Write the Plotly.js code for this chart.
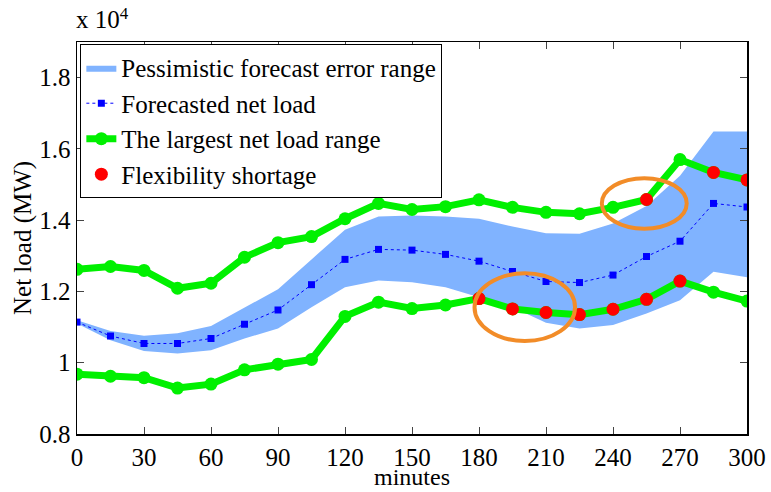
<!DOCTYPE html>
<html>
<head>
<meta charset="utf-8">
<script src="https://cdn.plot.ly/plotly-3.0.1.min.js"></script>
<style>html,body{margin:0;padding:0;background:#fff;}
#wrap{position:relative;width:771px;height:492px;}
#chart{position:absolute;left:0;top:0;width:771px;height:492px;}
#mult{position:absolute;left:76px;top:5px;font-family:'Liberation Serif';font-size:25px;color:#000;line-height:30px;}
#mult sup{font-size:17px;vertical-align:top;position:relative;top:-6px;}
</style>
</head>
<body>
<div id="wrap">
<div id="chart"></div>
<div id="mult">x 10<sup>4</sup></div>
</div>
<script>
// ---- data (net load in MW) ----
var minutes = [0,15,30,45,60,75,90,105,120,135,150,165,180,195,210,225,240,255,270,285,300];
var forecast = [11140,10750,10540,10540,10680,11080,11480,12190,12900,13180,13160,13040,12850,12560,12280,12250,12460,12980,13410,14470,14370];
var rangeUpper = [12620,12700,12590,12090,12230,12960,13370,13540,14040,14470,14300,14380,14570,14360,14220,14180,14360,14580,15700,15340,15130];
var rangeLower = [9680,9620,9580,9290,9400,9800,9960,10090,11300,11700,11520,11620,11800,11510,11410,11350,11500,11780,12290,11980,11730];
var errUpper = [11190,10890,10760,10830,11030,11550,12060,12900,13730,14100,14130,14100,14040,13820,13630,13620,13910,14400,15250,16490,16490];
var errLower = [11100,10630,10330,10260,10350,10680,10960,11560,12120,12310,12260,12120,11840,11560,11120,10960,11060,11380,11750,12550,12400];
var shortageUpperMin = [255,285,300];
var shortageLowerMin = [180,195,210,225,240,255,270];
var yTickVals = [8000,10000,12000,14000,16000,18000];
var yTickText = ["0.8","1","1.2","1.4","1.6","1.8"];
var xTickVals = [0,30,60,90,120,150,180,210,240,270,300];
// highlight ellipses [x0, x1, y0, y1]
var ellipses = [[235,273,13760,15180],[178,223,10610,12510]];

var FONT = 'Liberation Serif';
var GREEN = "#00f000";

var shortX = [], shortY = [];
shortageUpperMin.forEach(function(m){ shortX.push(m); shortY.push(rangeUpper[minutes.indexOf(m)]); });
shortX.push(null); shortY.push(null);
shortageLowerMin.forEach(function(m){ shortX.push(m); shortY.push(rangeLower[minutes.indexOf(m)]); });

var bandX = minutes.concat(minutes.slice().reverse());
var bandY = errUpper.concat(errLower.slice().reverse());

var traces = [
  {x: bandX, y: bandY, type:'scatter', mode:'lines', fill:'toself', fillcolor:'#80b3ff',
   line:{width:0, color:'#80b3ff'}, name:'Pessimistic forecast error range', hoverinfo:'skip'},
  {x: minutes, y: forecast, type:'scatter', mode:'lines+markers', name:'Forecasted net load',
   line:{color:'#0000ff', width:1, dash:'dot'}, marker:{symbol:'square', size:7, color:'#0000ff'}},
  {x: minutes, y: rangeUpper, type:'scatter', mode:'lines+markers', name:'The largest net load range',
   line:{color:GREEN, width:7}, marker:{symbol:'circle', size:13, color:GREEN}, legendgroup:'g'},
  {x: minutes, y: rangeLower, type:'scatter', mode:'lines+markers', showlegend:false,
   line:{color:GREEN, width:7}, marker:{symbol:'circle', size:13, color:GREEN}, legendgroup:'g'},
  {x: shortX, y: shortY, type:'scatter', mode:'markers', name:'Flexibility shortage',
   marker:{symbol:'circle', size:13, color:'#ff0000'}}
];

var shapes = ellipses.map(function(e){
  return {type:'circle', xref:'x', yref:'y', x0:e[0], x1:e[1], y0:e[2], y1:e[3],
          line:{color:'#f28c28', width:4}};
});

var layout = {
  width:771, height:492,
  margin:{l:77, r:24, t:42, b:58},
  paper_bgcolor:'rgba(0,0,0,0)', plot_bgcolor:'#fff',
  font:{family:FONT, size:25, color:'#000'},
  showlegend:true,
  legend:{x:0.005, y:0.995, xanchor:'left', yanchor:'top', bordercolor:'#000', borderwidth:1,
          bgcolor:'#fff', tracegroupgap:0, itemwidth:30},
  xaxis:{range:[0,300], tickvals:xTickVals, ticks:'inside', ticklen:7, tickwidth:1,
         showline:true, linecolor:'#000', linewidth:1.5, mirror:'ticks', showgrid:false, zeroline:false},
  yaxis:{range:[8000,19000], tickvals:yTickVals, ticktext:yTickText, ticks:'inside', ticklen:7, tickwidth:1,
         showline:true, linecolor:'#000', linewidth:1.5, mirror:'ticks', showgrid:false, zeroline:false},
  shapes:shapes,
  annotations:[
    {xref:'paper', yref:'paper', x:0.5, y:0, xanchor:'center', yanchor:'middle', showarrow:false,
     text:'minutes', font:{size:24}, yshift:-43},
    {xref:'paper', yref:'paper', x:0, y:0.5, xanchor:'center', yanchor:'middle', showarrow:false,
     text:'Net load (MW)', textangle:-90, xshift:-54}
  ]
};

Plotly.newPlot('chart', traces, layout, {displayModeBar:false, staticPlot:true});
</script>
</body>
</html>
